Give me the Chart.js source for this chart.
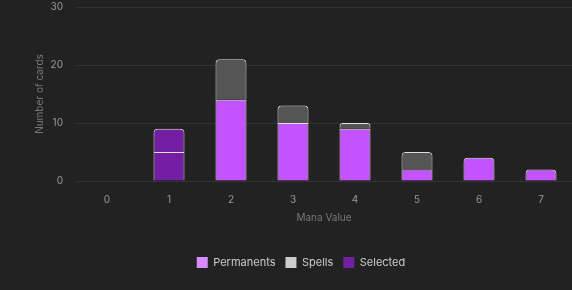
<!DOCTYPE html>
<html>
<head>
<meta charset="utf-8">
<script src="https://cdn.jsdelivr.net/npm/chart.js@4"></script>
<style>
  html, body { margin: 0; padding: 0; background: #222222; }
  #wrap { width: 572px; height: 290px; }
</style>
</head>
<body>
<div id="wrap"><canvas id="manaChart"></canvas></div>
<script>
// ============================================
// DATA
// ============================================
const manaValues = ['0', '1', '2', '3', '4', '5', '6', '7'];
const permanents = [0, 5, 14, 10, 9, 2, 4, 2];
const spells = [0, 4, 7, 3, 1, 3, 0, 0];
const selectedIndex = 1;
const yTicks = [0, 10, 20, 30];

// ============================================
// COLOURS
// ============================================
const permColor = '#c352ff';
const spellColor = '#555555';
const selColor = '#731fa3';
const borderCol = 'rgba(255,255,255,0.85)';

// selected mana value gets its own colour in every stack
function colorsFor(base) {
  return manaValues.map((_, i) => (i === selectedIndex ? selColor : base));
}

const legendBoxes = { Permanents: '#d68cff', Spells: '#cccccc', Selected: '#731fa3' };
const topRound = { topLeft: 4, topRight: 4, bottomLeft: 0, bottomRight: 0 };

Chart.defaults.font.family = 'Inter, "Open Sans", sans-serif';

new Chart(document.getElementById('manaChart'), {
  type: 'bar',
  data: {
    labels: manaValues,
    datasets: [
      {
        label: 'Permanents',
        data: permanents,
        backgroundColor: colorsFor(permColor),
        borderColor: borderCol,
        borderWidth: 1,
        // only round the top of the stack
        borderRadius: (ctx) => (spells[ctx.dataIndex] > 0 ? 0 : topRound),
        borderSkipped: 'start'
      },
      {
        label: 'Spells',
        data: spells,
        backgroundColor: colorsFor(spellColor),
        borderColor: borderCol,
        borderWidth: 1,
        borderRadius: topRound,
        borderSkipped: 'start'
      },
      {
        label: 'Selected',
        data: manaValues.map(() => null),
        backgroundColor: selColor
      }
    ]
  },
  options: {
    responsive: true,
    maintainAspectRatio: false,
    animation: false,
    datasets: { bar: { barPercentage: 0.5, categoryPercentage: 1 } },
    layout: { padding: { top: 0, right: 0, bottom: 12, left: 30 } },
    plugins: {
      tooltip: { enabled: false },
      legend: {
        position: 'bottom',
        labels: {
          color: '#cccccc',
          font: { size: 11 },
          boxWidth: 11,
          boxHeight: 11,
          padding: 10,
          generateLabels: (chart) => chart.data.datasets.map((ds, i) => ({
            text: ds.label,
            fillStyle: legendBoxes[ds.label],
            strokeStyle: legendBoxes[ds.label],
            lineWidth: 0,
            fontColor: '#cccccc',
            datasetIndex: i
          }))
        }
      }
    },
    scales: {
      x: {
        stacked: true,
        grid: { display: false },
        border: { display: false },
        ticks: { color: '#999999', font: { size: 10 }, padding: 5 },
        title: { display: true, text: 'Mana Value', color: '#777777', font: { size: 10 }, padding: { top: 1, bottom: 23 } }
      },
      y: {
        stacked: true,
        min: 0,
        max: 30,
        afterBuildTicks: (axis) => { axis.ticks = yTicks.map(v => ({ value: v })); },
        afterFit: (axis) => {
          axis.width = 46;
          axis.paddingTop = 7;
          axis.paddingBottom = 7;
        },
        grid: { color: '#333333', drawTicks: false },
        border: { display: false },
        ticks: { color: '#999999', font: { size: 10 }, padding: 13 },
        title: { display: true, text: 'Number of cards', color: '#777777', font: { size: 10 } }
      }
    }
  }
});
</script>
</body>
</html>
